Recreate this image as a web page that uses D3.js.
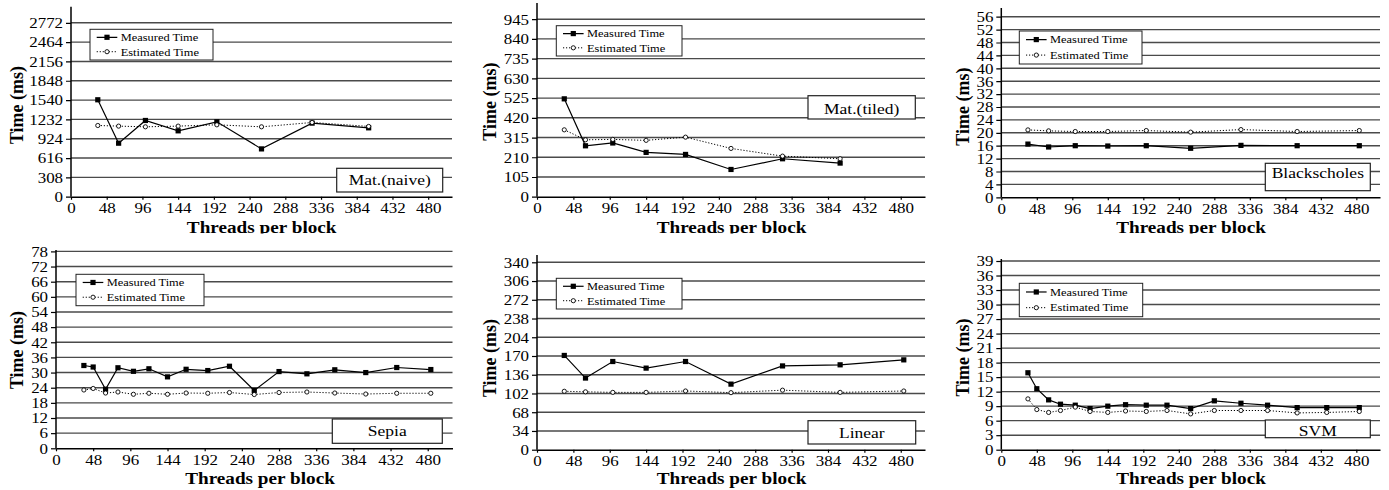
<!DOCTYPE html>
<html>
<head>
<meta charset="utf-8">
<script src="https://cdn.jsdelivr.net/npm/d3@7"></script>
<style>
  html, body { margin: 0; padding: 0; background: #fff; }
  svg { display: block; }
  text { font-family: "Liberation Serif", "Times New Roman", serif; fill: #000; }
</style>
</head>
<body>
<svg id="chart" width="1389" height="490"></svg>
<script>
// Thread counts per block (2D block shapes)
const threadsSquare = [36, 64, 100, 144, 196, 256, 324, 400, 484];
const threads2D = [36, 48, 64, 80, 100, 120, 144, 168, 196, 224, 256, 288, 324, 360, 400, 440, 484];
const xTicks = [0, 48, 96, 144, 192, 240, 288, 336, 384, 432, 480];

// Mat.(naive)
const naiveThreads = threadsSquare.slice(0, 8);
const naiveMeasured = [1545, 853, 1215, 1050, 1194, 762, 1173, 1098];
const naiveEstimated = [1135, 1125, 1114, 1125, 1146, 1114, 1183, 1120];
const naiveTicks = [0, 308, 616, 924, 1232, 1540, 1848, 2156, 2464, 2772];

// Mat.(tiled)
const tiledThreads = threadsSquare.slice(0, 8);
const tiledMeasured = [521, 271, 286, 236, 225, 145, 202, 179];
const tiledEstimated = [356, 303, 305, 300, 317, 257, 216, 202];
const tiledTicks = [0, 105, 210, 315, 420, 525, 630, 735, 840, 945];

// Blackscholes
const blackThreads = threadsSquare;
const blackMeasured = [16.5, 15.6, 16.0, 15.9, 16.0, 15.2, 16.1, 16.0, 16.0];
const blackEstimated = [20.9, 20.6, 20.4, 20.4, 20.7, 20.2, 21.0, 20.4, 20.7];
const blackTicks = [0, 4, 8, 12, 16, 20, 24, 28, 32, 36, 40, 44, 48, 52, 56];

// Sepia
const sepiaThreads = threads2D;
const sepiaMeasured = [32.8, 32.2, 23.4, 31.9, 30.5, 31.5, 28.3, 31.3, 30.8, 32.5, 22.9, 30.4, 29.5, 31.1, 30.0, 32.0, 31.2];
const sepiaEstimated = [23.1, 23.7, 21.9, 22.3, 21.4, 21.8, 21.4, 21.9, 21.8, 22.1, 21.3, 22.1, 22.3, 21.9, 21.5, 21.8, 21.8];
const sepiaTicks = [0, 6, 12, 18, 24, 30, 36, 42, 48, 54, 60, 66, 72, 78];

// Linear
const linearThreads = threadsSquare;
const linearMeasured = [171, 130, 160, 148, 160, 119, 152, 154, 163];
const linearEstimated = [106, 105, 104, 104, 106.5, 103.5, 108, 104, 106.5];
const linearTicks = [0, 34, 68, 102, 136, 170, 204, 238, 272, 306, 340];

// SVM
const svmThreads = threads2D;
const svmMeasured = [15.9, 12.6, 10.3, 9.4, 9.2, 8.5, 9.0, 9.3, 9.2, 9.2, 8.5, 10.1, 9.6, 9.2, 8.7, 8.7, 8.7];
const svmEstimated = [10.5, 8.3, 7.7, 8.1, 8.8, 7.9, 7.7, 8.0, 7.9, 8.1, 7.4, 8.1, 8.1, 8.1, 7.6, 7.7, 7.9];
const svmTicks = [0, 3, 6, 9, 12, 15, 18, 21, 24, 27, 30, 33, 36, 39];

const xMax = 512;
const seriesNames = ["Measured Time", "Estimated Time"];

// Panel layout: plot frame, legend box, name box, titles
const panels = [
  { name: "Mat.(naive)", threads: naiveThreads, measured: naiveMeasured, estimated: naiveEstimated, ticks: naiveTicks,
    x0: 71, x1: 452, y0: 196.7, yTop: 22.8, axisTop: 6.7, clipBottom: 233.5,
    legend: [90, 29.3, 123, 30.7], box: [336.7, 168.3, 106, 23.7], boxBase: 185,
    xTitle: [261.7, 233], yTitle: [23, 105] },
  { name: "Mat.(tiled)", threads: tiledThreads, measured: tiledMeasured, estimated: tiledEstimated, ticks: tiledTicks,
    x0: 537, x1: 925, y0: 196.7, yTop: 19.2, axisTop: 3, clipBottom: 233.5,
    legend: [556.3, 25.7, 125.7, 30.3], box: [808, 95.7, 107.3, 23.3], boxBase: 113.5,
    xTitle: [731.5, 233], yTitle: [496, 101.7] },
  { name: "Blackscholes", threads: blackThreads, measured: blackMeasured, estimated: blackEstimated, ticks: blackTicks,
    x0: 1001.3, x1: 1380, y0: 197.3, yTop: 16.7, axisTop: 8, clipBottom: 233.5,
    legend: [1019.3, 31, 122.7, 33], box: [1265.3, 163.3, 105, 27.4], boxBase: 177.5,
    xTitle: [1191, 233], yTitle: [969, 106.7] },
  { name: "Sepia", threads: sepiaThreads, measured: sepiaMeasured, estimated: sepiaEstimated, ticks: sepiaTicks,
    x0: 56, x1: 452.5, y0: 448.3, yTop: 251.4, axisTop: 250, clipBottom: 490,
    legend: [76, 274.3, 128, 31.4], box: [332.3, 419, 110, 24.3], boxBase: 435.7,
    xTitle: [260, 484], yTitle: [23, 350] },
  { name: "Linear", threads: linearThreads, measured: linearMeasured, estimated: linearEstimated, ticks: linearTicks,
    x0: 537, x1: 925, y0: 449.7, yTop: 262.3, axisTop: 255, clipBottom: 490,
    legend: [556.3, 278.3, 125.7, 30.7], box: [808, 420.7, 107.7, 23.3], boxBase: 438.3,
    xTitle: [731.5, 484], yTitle: [496, 358] },
  { name: "SVM", threads: svmThreads, measured: svmMeasured, estimated: svmEstimated, ticks: svmTicks,
    x0: 1001.3, x1: 1380, y0: 449.7, yTop: 261, axisTop: 259, clipBottom: 490,
    legend: [1019.3, 283.3, 123.4, 33.4], box: [1265.3, 420, 105, 17.7], boxBase: 436,
    xTitle: [1191, 484], yTitle: [969, 357.5] }
];

const stretch = 1.13; // horizontal glyph stretch of all upright labels
const svg = d3.select("#chart");
const defs = svg.append("defs");

function stretchedText(parent, x, y, str, size, anchor, weight) {
  return parent.append("text")
    .attr("transform", `translate(${x},${y}) scale(${stretch},1)`)
    .attr("text-anchor", anchor || "start")
    .attr("font-size", size)
    .attr("font-weight", weight || "normal")
    .text(str);
}

panels.forEach((p, i) => {
  defs.append("clipPath").attr("id", "clip" + i)
    .append("rect").attr("x", 0).attr("y", 0).attr("width", 1389).attr("height", p.clipBottom);

  const g = svg.append("g").attr("clip-path", `url(#clip${i})`);

  const x = d3.scaleLinear().domain([0, xMax]).range([p.x0, p.x1]);
  const yMaxTick = p.ticks[p.ticks.length - 1];
  const y = d3.scaleLinear().domain([0, yMaxTick]).range([p.y0, p.yTop]);

  // horizontal gridlines
  g.append("g").selectAll("line")
    .data(p.ticks.filter(t => t > 0))
    .join("line")
    .attr("x1", p.x0).attr("x2", p.x1)
    .attr("y1", d => y(d)).attr("y2", d => y(d))
    .attr("stroke", "#4a4a4a").attr("stroke-width", 1.4);

  // y axis
  const yAxis = g.append("g").attr("transform", `translate(${p.x0},0)`)
    .call(d3.axisLeft(y).tickValues(p.ticks).tickFormat(d3.format("d")).tickSize(5).tickSizeOuter(0).tickPadding(2));
  yAxis.select(".domain").remove();
  yAxis.selectAll(".tick line").attr("stroke", "#000").attr("stroke-width", 1.2);
  yAxis.selectAll(".tick text")
    .attr("font-family", "Liberation Serif, serif").attr("font-size", 15).attr("fill", "#000")
    .attr("transform", `scale(${stretch},1)`);
  g.append("line").attr("x1", p.x0).attr("x2", p.x0).attr("y1", p.y0).attr("y2", p.axisTop)
    .attr("stroke", "#000").attr("stroke-width", 1.5);

  // x axis
  const xAxis = g.append("g").attr("transform", `translate(0,${p.y0})`)
    .call(d3.axisBottom(x).tickValues(xTicks).tickFormat(d3.format("d")).tickSize(3).tickSizeOuter(0).tickPadding(3));
  xAxis.select(".domain").attr("stroke", "#000").attr("stroke-width", 1.5);
  xAxis.selectAll(".tick line").attr("stroke", "#000").attr("stroke-width", 1.2);
  xAxis.selectAll(".tick text")
    .attr("font-family", "Liberation Serif, serif").attr("font-size", 15).attr("fill", "#000")
    .attr("transform", `scale(${stretch},1)`);

  // series
  const measuredPts = p.threads.map((t, k) => [t, p.measured[k]]);
  const estimatedPts = p.threads.map((t, k) => [t, p.estimated[k]]);
  const line = d3.line().x(d => x(d[0])).y(d => y(d[1]));

  g.append("path").datum(estimatedPts).attr("d", line)
    .attr("fill", "none").attr("stroke", "#000").attr("stroke-width", 1).attr("stroke-dasharray", "1.2,1.8");
  g.append("path").datum(measuredPts).attr("d", line)
    .attr("fill", "none").attr("stroke", "#000").attr("stroke-width", 1.2);

  g.append("g").selectAll("rect").data(measuredPts).join("rect")
    .attr("x", d => x(d[0]) - 2.6).attr("y", d => y(d[1]) - 2.6)
    .attr("width", 5.2).attr("height", 5.2).attr("fill", "#000");
  g.append("g").selectAll("circle").data(estimatedPts).join("circle")
    .attr("cx", d => x(d[0])).attr("cy", d => y(d[1])).attr("r", 2.1)
    .attr("fill", "#fff").attr("stroke", "#000").attr("stroke-width", 0.9);

  // legend
  const [lx, ly, lw, lh] = p.legend;
  const lg = g.append("g");
  lg.append("rect").attr("x", lx).attr("y", ly).attr("width", lw).attr("height", lh)
    .attr("fill", "#fff").attr("stroke", "#222").attr("stroke-width", 1);
  const row1 = ly + lh * 0.26, row2 = ly + lh * 0.73;
  lg.append("line").attr("x1", lx + 6.7).attr("x2", lx + 27.3).attr("y1", row1).attr("y2", row1)
    .attr("stroke", "#000").attr("stroke-width", 1.2);
  lg.append("rect").attr("x", lx + 17 - 2.6).attr("y", row1 - 2.6).attr("width", 5.2).attr("height", 5.2).attr("fill", "#000");
  lg.append("line").attr("x1", lx + 6.7).attr("x2", lx + 27.3).attr("y1", row2).attr("y2", row2)
    .attr("stroke", "#000").attr("stroke-width", 1).attr("stroke-dasharray", "1.2,1.8");
  lg.append("circle").attr("cx", lx + 17).attr("cy", row2).attr("r", 2.1)
    .attr("fill", "#fff").attr("stroke", "#000").attr("stroke-width", 0.9);
  stretchedText(lg, lx + 30.7, row1 + 3.8, seriesNames[0], 11);
  stretchedText(lg, lx + 30.7, row2 + 3.8, seriesNames[1], 11);

  // benchmark name box
  const [bx, by, bw, bh] = p.box;
  g.append("rect").attr("x", bx).attr("y", by).attr("width", bw).attr("height", bh)
    .attr("fill", "#fff").attr("stroke", "#222").attr("stroke-width", 1.2);
  stretchedText(g, bx + bw / 2, p.boxBase, p.name, 15.5, "middle");

  // axis titles
  stretchedText(g, p.xTitle[0], p.xTitle[1], "Threads per block", 17, "middle", "bold");
  g.append("text")
    .attr("transform", `translate(${p.yTitle[0]},${p.yTitle[1]}) rotate(-90)`)
    .attr("text-anchor", "middle").attr("font-size", 18).attr("font-weight", "bold")
    .text("Time (ms)");
});
</script>
</body>
</html>
